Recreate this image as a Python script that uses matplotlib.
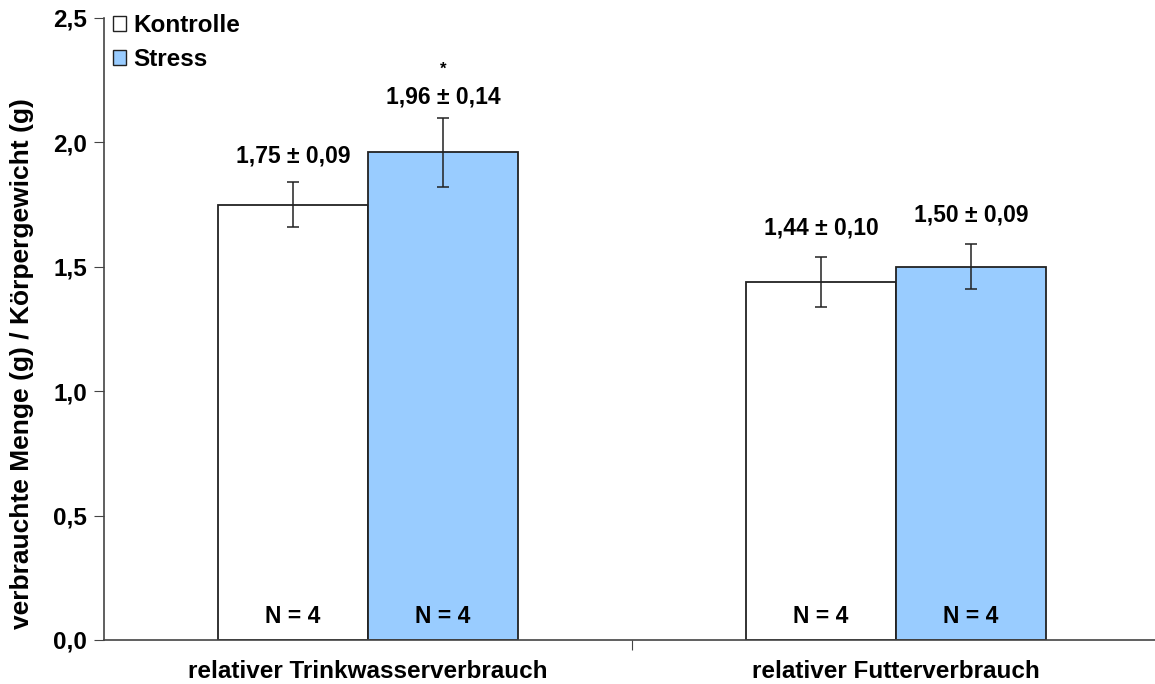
import matplotlib
matplotlib.use("Agg")
import matplotlib.pyplot as plt
from matplotlib.patches import Patch
import numpy as np

plt.rcParams['font.family'] = ['Liberation Sans', 'DejaVu Sans']
plt.rcParams['font.weight'] = 'bold'

categories = ["relativer Trinkwasserverbrauch", "relativer Futterverbrauch"]
groups = ["Kontrolle", "Stress"]
kontrolle_mean = [1.75, 1.44]
kontrolle_sem = [0.09, 0.10]
stress_mean = [1.96, 1.50]
stress_sem = [0.14, 0.09]
n_labels = ["N = 4", "N = 4"]
significance = ["*", ""]
y_ticks = [0.0, 0.5, 1.0, 1.5, 2.0, 2.5]

# gap (points) between error-bar top and the centre of its value label
kontrolle_label_gap = [19, 21]
stress_label_gap = [14.5, 21.5]

W, H = 1155, 684
fig = plt.figure(figsize=(W / 100, H / 100), dpi=100)
ax_left, ax_right, ax_top, ax_bottom = 104, 1160, 18, 640
ax = fig.add_axes([ax_left / W, 1 - ax_bottom / H,
                   (ax_right - ax_left) / W, (ax_bottom - ax_top) / H])

x = np.arange(len(categories))
width = 150 / 528
edge = '#222222'
blue = '#99CCFF'

def fmt(v):
    return f"{v:.2f}".replace('.', ',')

ax.bar(x - width / 2, kontrolle_mean, width, color='white',
       edgecolor=edge, linewidth=1.3, zorder=2)
ax.bar(x + width / 2, stress_mean, width, color=blue,
       edgecolor=edge, linewidth=1.3, zorder=2)

for xs, means, errs, gaps in [(x - width / 2, kontrolle_mean, kontrolle_sem, kontrolle_label_gap),
                              (x + width / 2, stress_mean, stress_sem, stress_label_gap)]:
    ax.errorbar(xs, means, yerr=errs, fmt='none', ecolor='#222222',
                elinewidth=1.1, capsize=4.5, capthick=1.1, zorder=3)
    for xi, m, e, g in zip(xs, means, errs, gaps):
        ax.annotate(f"{fmt(m)} \u00b1 {fmt(e)}", (xi, m + e),
                    xytext=(0, g), textcoords='offset points',
                    ha='center', va='center', fontsize=16.5, fontweight='bold')

for xi, m, e, s in zip(x + width / 2, stress_mean, stress_sem, significance):
    if s:
        ax.annotate(s, (xi, m + e), xytext=(0, 35), textcoords='offset points',
                    ha='center', va='center', fontsize=12, fontweight='bold')

for xi, lbl in zip(list(x - width / 2) + list(x + width / 2), n_labels * 2):
    ax.text(xi, 0.096, lbl, ha='center', va='center', fontsize=16.5,
            fontweight='bold')

ax.set_xlim(-0.5, len(categories) - 0.5)
ax.set_ylim(0, 2.5)
ax.set_yticks(y_ticks)
ax.set_yticklabels([f"{t:.1f}".replace('.', ',') for t in y_ticks],
                   fontsize=17.5, fontweight='bold')
ax.set_xticks([0.5])
ax.set_xticklabels([""])
ax.tick_params(axis='x', direction='out', length=7, color='#444444')
ax.tick_params(axis='y', direction='out', length=7, color='#444444', pad=5)
for xi, c in zip(x, categories):
    ax.text(xi, -0.128, c, ha='center', va='center', fontsize=17.5,
            fontweight='bold', clip_on=False)

ax.set_ylabel("verbrauchte Menge (g) / Körpergewicht (g)", fontsize=19,
              fontweight='bold', va='center')
ax.yaxis.set_label_coords(-0.0777, 0.444)

for side in ['top', 'right']:
    ax.spines[side].set_visible(False)
for side in ['left', 'bottom']:
    ax.spines[side].set_color('#444444')
    ax.spines[side].set_linewidth(1.2)

handles = [Patch(facecolor='white', edgecolor=edge, linewidth=1.0),
           Patch(facecolor=blue, edgecolor=edge, linewidth=1.0)]
ax.legend(handles, groups, loc='upper left', bbox_to_anchor=(-0.0076, 1.034),
          frameon=False, prop={'weight': 'bold', 'size': 17.5},
          handlelength=0.55, handleheight=0.55, handletextpad=0.3,
          labelspacing=0.45, borderaxespad=0.3)

fig.savefig("out.png", dpi=100, facecolor='white')
